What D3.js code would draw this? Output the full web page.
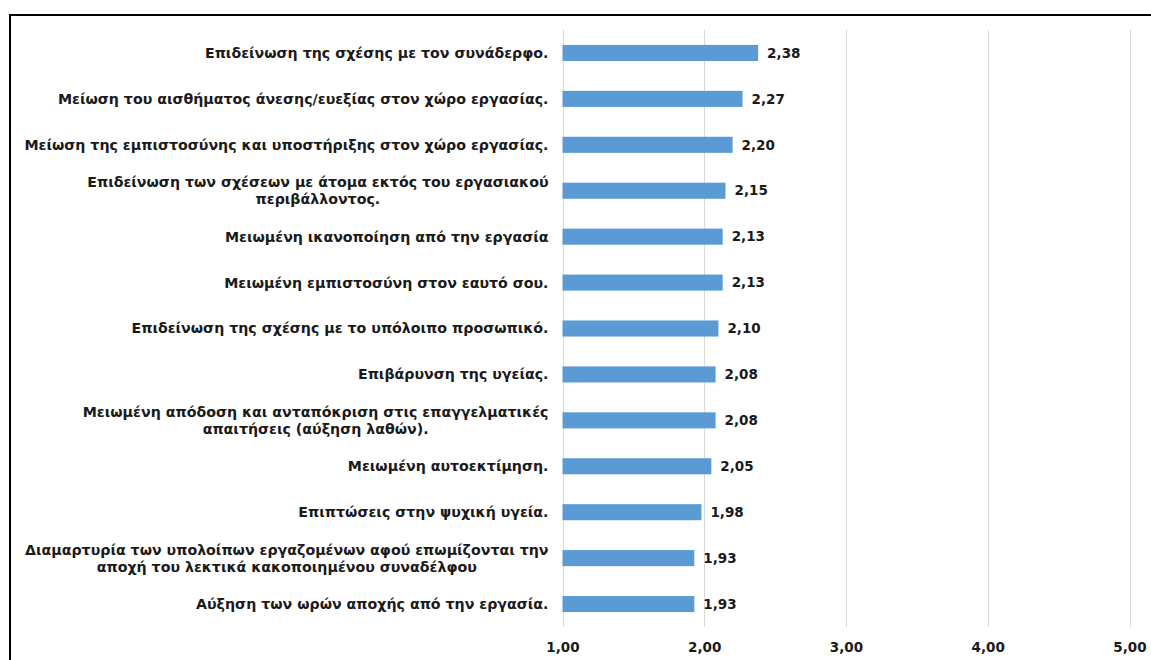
<!DOCTYPE html>
<html>
<head>
<meta charset="utf-8">
<script src="https://cdn.jsdelivr.net/npm/d3@7"></script>
<style>
  html, body { margin: 0; padding: 0; background: #fff; }
  svg { display: block; }
  text { font-family: "DejaVu Sans", "Noto Sans", sans-serif; font-weight: 700; fill: #1a1a1a; }
</style>
</head>
<body>
<svg id="chart" width="1151" height="660"></svg>
<script>
// Items (top to bottom), each line of a wrapped label is a separate string
const categories = [
  ["Επιδείνωση της σχέσης με τον συνάδερφο."],
  ["Μείωση του αισθήματος άνεσης/ευεξίας στον χώρο εργασίας."],
  ["Μείωση της εμπιστοσύνης και υποστήριξης στον χώρο εργασίας."],
  ["Επιδείνωση των σχέσεων με άτομα εκτός του εργασιακού", "περιβάλλοντος."],
  ["Μειωμένη ικανοποίηση από την εργασία"],
  ["Μειωμένη εμπιστοσύνη στον εαυτό σου."],
  ["Επιδείνωση της σχέσης με το υπόλοιπο προσωπικό."],
  ["Επιβάρυνση της υγείας."],
  ["Μειωμένη απόδοση και ανταπόκριση στις επαγγελματικές", "απαιτήσεις (αύξηση λαθών)."],
  ["Μειωμένη αυτοεκτίμηση."],
  ["Επιπτώσεις στην ψυχική υγεία."],
  ["Διαμαρτυρία των υπολοίπων εργαζομένων αφού επωμίζονται την", "αποχή του λεκτικά κακοποιημένου συναδέλφου"],
  ["Αύξηση των ωρών αποχής από την εργασία."]
];
const values = [2.38, 2.27, 2.20, 2.15, 2.13, 2.13, 2.10, 2.08, 2.08, 2.05, 1.98, 1.93, 1.93];
const tickValues = [1, 2, 3, 4, 5];

const fmt = v => d3.format(".2f")(v).replace(".", ",");
const FONT = '"DejaVu Sans", "Noto Sans", sans-serif';

const svg = d3.select("#chart");

// Outer frame
svg.append("rect")
  .attr("x", 10).attr("y", 15)
  .attr("width", 1200).attr("height", 700)
  .attr("fill", "none").attr("stroke", "#000").attr("stroke-width", 2);

const plot = { left: 562.5, right: 1129.5, top: 30, bottom: 627 };

const x = d3.scaleLinear().domain([1, 5]).range([plot.left, plot.right]);
const y = d3.scaleBand()
  .domain(d3.range(categories.length))
  .range([plot.top, plot.bottom])
  .paddingInner(0.65).paddingOuter(0.325);

// Vertical gridlines
svg.append("g")
  .selectAll("line")
  .data(tickValues)
  .join("line")
  .attr("x1", d => Math.round(x(d)) + 0.5).attr("x2", d => Math.round(x(d)) + 0.5)
  .attr("y1", plot.top).attr("y2", plot.bottom)
  .attr("stroke", "#d9d9d9").attr("stroke-width", 1);

// Bottom tick labels
const xAxis = d3.axisBottom(x).tickValues(tickValues).tickFormat(fmt).tickSize(0).tickPadding(0);
const gx = svg.append("g").attr("transform", `translate(0,${plot.bottom + 15})`).call(xAxis);
gx.select(".domain").remove();
gx.selectAll("text")
  .attr("font-size", 13.5).attr("dy", "0.71em")
  .style("font-family", FONT)
  .style("font-weight", 700).attr("fill", "#1a1a1a");

// Bars
svg.append("g")
  .selectAll("rect")
  .data(values)
  .join("rect")
  .attr("x", x(1))
  .attr("y", (d, i) => y(i))
  .attr("width", d => x(d) - x(1))
  .attr("height", y.bandwidth())
  .attr("fill", "#5b9bd5");

// Value labels
svg.append("g")
  .selectAll("text")
  .data(values)
  .join("text")
  .attr("x", d => x(d) + 9)
  .attr("y", (d, i) => y(i) + y.bandwidth() / 2)
  .attr("dy", "0.35em")
  .attr("font-size", 13.5)
  .text(d => fmt(d));

// Category labels, right-aligned block, wrapped lines centred inside the block
const labelRight = plot.left - 14;
const lineH = 17;
const lg = svg.append("g");
categories.forEach((lines, i) => {
  const cy = y(i) + y.bandwidth() / 2;
  const t = lg.append("text").attr("font-size", 14.2);
  const spans = lines.map((s, k) =>
    t.append("tspan")
      .attr("y", cy + (k - (lines.length - 1) / 2) * lineH)
      .attr("dy", "0.35em")
      .text(s));
  const widths = spans.map(s => s.node().getComputedTextLength());
  const w = d3.max(widths);
  if (lines.length === 1) {
    t.attr("text-anchor", "end");
    spans[0].attr("x", labelRight);
  } else {
    t.attr("text-anchor", "middle");
    spans.forEach(s => s.attr("x", labelRight - w / 2));
  }
});
</script>
</body>
</html>
